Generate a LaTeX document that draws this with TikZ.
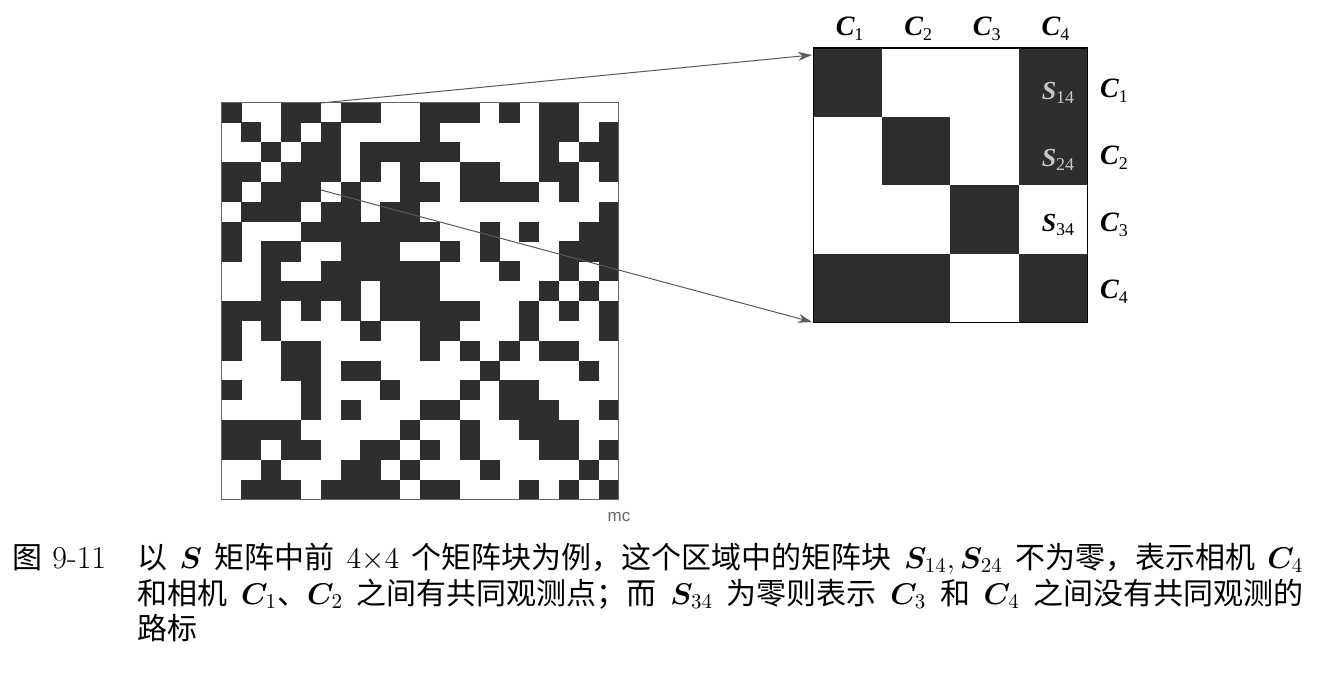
\RequirePackage{fix-cm}
\documentclass[tikz,border=0pt]{standalone}
\usepackage{fontspec}
\usepackage{bm}
\usetikzlibrary{arrows.meta}
\newfontfamily\cjk{Noto Sans CJK SC}
\newfontfamily\tnr{Liberation Serif}
\newfontfamily\hel{Liberation Sans}
\newcommand{\capfont}{\cjk\fontsize{15}{18}\selectfont}
\newcommand{\camlbl}[2]{{\tnr\fontsize{14}{16}\selectfont\bfseries\itshape #1}{\tnr\fontsize{9}{10}\selectfont\raisebox{-0.6ex}{#2}}}
\newcommand{\sblk}[1]{{\tnr\fontsize{13}{15}\selectfont\bfseries\itshape S}{\tnr\fontsize{9}{10}\selectfont\raisebox{-0.5ex}{#1}}}
\begin{document}
\begin{tikzpicture}[x=0.5pt,y=-0.5pt,
    cell/.style={fill=black!82},
    lbl/.style={inner sep=0pt},
    arr/.style={draw=black!65,line width=0.5pt,-{Stealth[length=7pt,width=4.5pt]}}]
  \useasboundingbox (0,0) rectangle (1338,673);
  % the S matrix, 20x20 blocks
  \begin{scope}[shift={(221.5,102.5)}]
    \foreach \row [count=\i from 0] in {
        {1,0,0,1,1,0,1,1,0,0,1,1,1,0,1,0,1,1,0,0},
        {0,1,0,1,0,1,0,0,0,0,1,0,0,0,0,0,1,1,0,1},
        {0,0,1,0,1,1,0,1,1,1,1,1,0,0,0,0,1,0,1,1},
        {1,1,0,1,1,1,0,1,0,1,0,0,1,1,0,0,1,1,0,1},
        {1,0,1,1,1,0,1,0,0,1,1,0,1,1,1,1,0,1,0,0},
        {0,1,1,1,0,1,1,0,1,1,0,0,0,0,0,0,0,0,0,1},
        {1,0,0,0,1,1,1,1,1,1,1,0,0,1,0,1,0,0,1,1},
        {1,0,1,1,0,0,1,1,1,0,0,1,0,1,0,0,0,1,1,1},
        {0,0,1,0,0,1,1,1,1,1,1,0,0,0,1,0,0,1,0,1},
        {0,0,1,1,1,1,1,0,1,1,1,0,0,0,0,0,1,0,1,0},
        {1,1,1,0,1,0,1,0,1,1,1,1,1,0,0,1,0,1,0,1},
        {1,0,1,0,0,0,0,1,0,0,1,1,0,0,0,1,0,0,0,1},
        {1,0,0,1,1,0,0,0,0,0,1,0,1,0,1,0,1,1,0,0},
        {0,0,0,1,1,0,1,1,0,0,0,0,0,1,0,0,0,0,1,0},
        {1,0,0,0,1,0,0,0,1,0,0,0,1,0,1,1,0,0,0,0},
        {0,0,0,0,1,0,1,0,0,0,1,1,0,0,1,1,1,0,0,1},
        {1,1,1,1,0,0,0,0,0,1,0,0,1,0,0,1,1,1,0,0},
        {1,1,0,1,1,0,0,1,1,0,1,0,1,0,0,0,1,1,0,1},
        {0,0,1,0,0,0,1,1,0,1,0,0,0,1,0,0,0,0,1,0},
        {0,1,1,1,0,1,1,1,1,0,1,1,0,0,0,1,0,1,0,1}} {
      \foreach \v [count=\j from 0] in \row {
        \ifnum\v=1 \fill[cell] ({\j*19.85},{\i*19.85}) rectangle ++(20.1,20.1);\fi
      }
    }
    \draw[black!60,line width=0.4pt] (0,0) rectangle (397,397);
  \end{scope}
  % zoomed 4x4 corner
  \begin{scope}[shift={(813,48)}]
    \foreach \row [count=\i from 0] in {{1,0,0,1},{0,1,0,1},{0,0,1,0},{1,1,0,1}} {
      \foreach \v [count=\j from 0] in \row {
        \ifnum\v=1 \fill[cell] ({\j*68.6},{\i*68.6}) rectangle ++(68.8,68.8);\fi
      }
    }
    \draw[line width=0.5pt] (0,0) rectangle (274.4,274.4);
    \draw[line width=1.2pt] (0,0) -- (274.4,0);
    \foreach \k in {1,...,4} {
      \node[lbl] (top\k) at ({\k*68.6-32},-19) {\camlbl{C}{\k}};
      \node[lbl] (side\k) at (301,{43+(\k-1)*67}) {\camlbl{C}{\k}};
    }
    \node[lbl,text=black!22] (s14) at (245,45) {\sblk{14}};
    \node[lbl,text=black!22] (s24) at (245,112) {\sblk{24}};
    \node[lbl] (s34) at (245,177) {\sblk{34}};
  \end{scope}
  \coordinate (src1) at (321,103);
  \coordinate (src2) at (321,190);
  \coordinate (dst1) at (812,55);
  \coordinate (dst2) at (812,322);
  \draw[arr] (src1) -- (dst1);
  \draw[arr] (src2) -- (dst2);
  \node[lbl,font=\hel\fontsize{8.5}{10}\selectfont,text=black!60] (mc) at (619,517) {mc};
  % caption
  \node[anchor=base west,inner sep=0pt,font=\capfont] (fig) at (12,568) {图\hspace{5pt}{\rmfamily\fontsize{16}{18}\selectfont 9-11}};
  \node[anchor=base west,inner sep=0pt,font=\capfont] (cap1) at (137,568)
    {\makebox[583pt][s]{以 $\bm{S}$ 矩阵中前 $4{\times}4$ 个矩阵块为例，这个区域中的矩阵块 $\bm{S}_{14},\bm{S}_{24}$ 不为零，表示相机 $\bm{C}_4$}};
  \node[anchor=base west,inner sep=0pt,font=\capfont] (cap2) at (137,604)
    {\makebox[583pt][s]{和相机 $\bm{C}_1$、$\bm{C}_2$ 之间有共同观测点；而 $\bm{S}_{34}$ 为零则表示 $\bm{C}_3$ 和 $\bm{C}_4$ 之间没有共同观测的}};
  \node[anchor=base west,inner sep=0pt,font=\capfont] (cap3) at (137,639) {路标};
\end{tikzpicture}
\end{document}
